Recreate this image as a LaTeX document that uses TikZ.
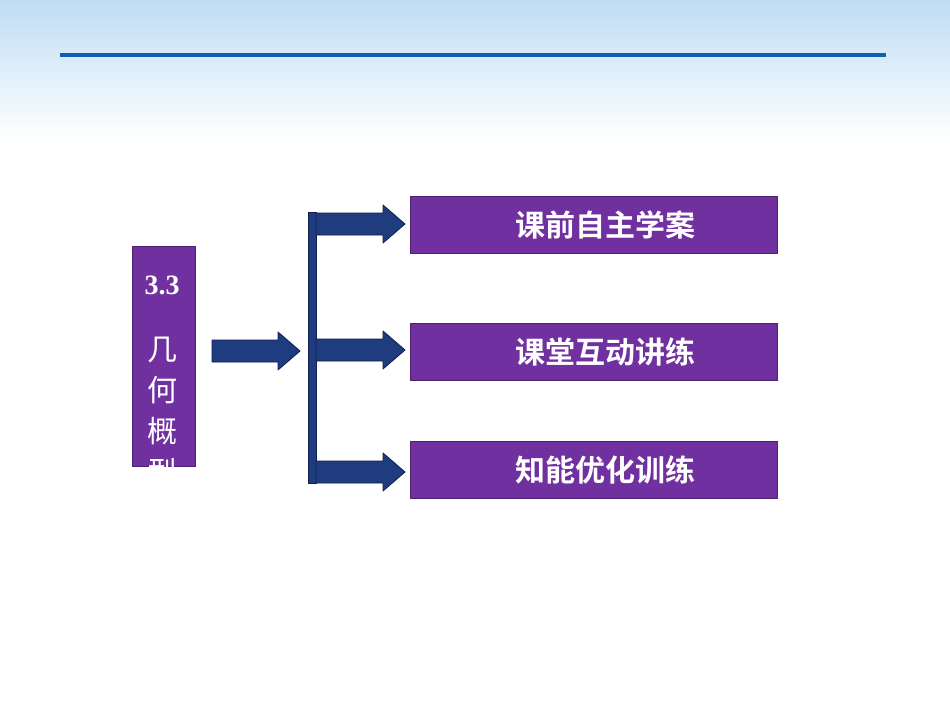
\documentclass[tikz,border=0pt]{standalone}
\usepackage{fontspec}
\newfontfamily\cjk{Noto Sans CJK SC Bold}
\newfontfamily\cjkr{Noto Sans CJK SC}
\newfontfamily\serifb{Liberation Serif Bold}
\definecolor{purp}{HTML}{7030A0}
\definecolor{navy}{HTML}{1F3C7E}
\definecolor{navyd}{HTML}{0E1F50}
\definecolor{topline}{HTML}{1060B0}
\definecolor{skyb}{HTML}{BFDDF3}
\tikzset{
 box/.style={fill=purp,draw=purp!70!black,line width=0.8pt},
 arr/.style={fill=navy,draw=navyd,line width=0.8pt,line join=round},
 lab/.style={text=white,font=\cjk\fontsize{30}{32}\selectfont}
}
\begin{document}
\begin{tikzpicture}[x=1pt,y=-1pt]
\useasboundingbox (0,0) rectangle (950,713);
\fill[white] (0,0) rectangle (950,713);
\shade[top color=skyb,bottom color=white] (0,0) rectangle (950,140);
\fill[topline] (60,53) rectangle (886,57);
% left box
\node[box,minimum width=63pt,minimum height=220pt,anchor=north west,inner sep=0] (L) at (132,246) {};
\begin{scope}
\clip (132,246) rectangle (195,466);
\node[text=white,font=\serifb\fontsize{28}{30}\selectfont] (L33) at (162,285) {3.3};
\node[text=white,align=center,anchor=north,inner sep=0,font=\cjkr\fontsize{30}{41}\selectfont] (Lt) at (162,337) {几\\何\\概\\型};
\end{scope}
% right boxes
\node[box,minimum width=367pt,minimum height=57pt,inner sep=0] (B1) at (593.5,224.5) {};
\node[box,minimum width=367pt,minimum height=57pt,inner sep=0] (B2) at (593.5,351.5) {};
\node[box,minimum width=367pt,minimum height=57pt,inner sep=0] (B3) at (593.5,469.5) {};
\node[lab] at ([xshift=12pt]B1.center) {课前自主学案};
\node[lab] at ([xshift=12pt]B2.center) {课堂互动讲练};
\node[lab] at ([xshift=12pt]B3.center) {知能优化训练};
% bar
\fill[arr] (308,212) rectangle (316,483);
% arrows
\newcommand\bigarr[3]{% x1 x2 yc
 \filldraw[arr] (#1,#3-11) -- (#2-22,#3-11) -- (#2-22,#3-19) -- (#2,#3) -- (#2-22,#3+19) -- (#2-22,#3+11) -- (#1,#3+11) -- cycle;}
\bigarr{212}{300}{351}
\bigarr{316}{405}{224}
\bigarr{316}{405}{350}
\bigarr{316}{405}{472}
\end{tikzpicture}
\end{document}
